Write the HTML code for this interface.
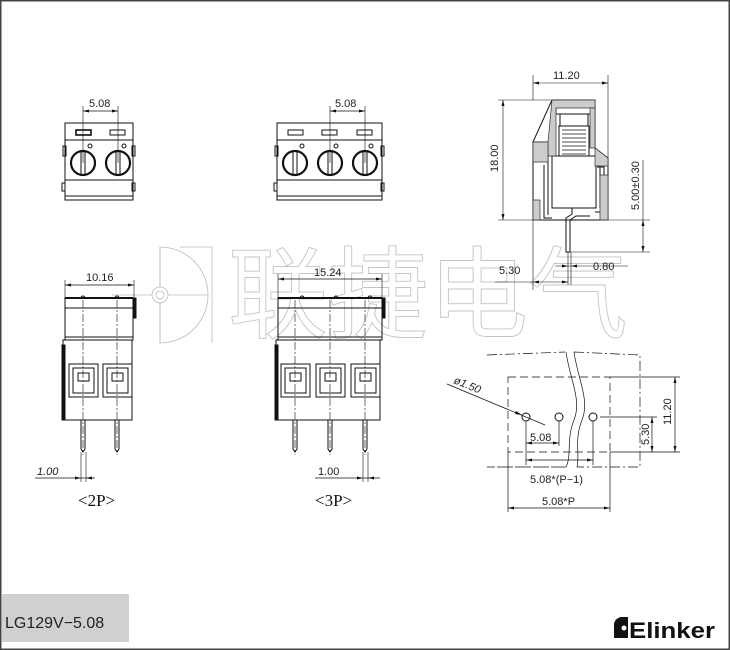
<!DOCTYPE html>
<html><head><meta charset="utf-8"><style>
html,body{margin:0;padding:0;background:#fff}
svg{display:block}
text{font-family:"Liberation Sans","Noto Sans CJK SC",sans-serif}
text.serif{font-family:"Liberation Serif",serif}
text.wm{font-family:"Noto Sans CJK SC",sans-serif}
text.logo{font-family:"Liberation Sans Narrow","Liberation Sans",sans-serif}
</style></head><body>
<svg width="730" height="650" viewBox="0 0 730 650" xmlns="http://www.w3.org/2000/svg">
<rect x="0" y="0" width="730" height="650" fill="#fff"/>
<rect x="0.75" y="0.75" width="728.5" height="648.5" fill="none" stroke="#444" stroke-width="1.5"/>

<!-- watermark -->
<g fill="none" stroke="#bbb" stroke-width="0.8">
<path d="M160 247 A48 48 0 1 1 160 343 Z"/>
<line x1="160" y1="247" x2="160" y2="343"/><line x1="112" y1="295" x2="208" y2="295"/>
<circle cx="160" cy="295" r="8" fill="#fff"/><circle cx="160" cy="295" r="4"/>
<path d="M180 247 H212 V343"/>
</g>
<text class="wm" x="228" y="330" font-size="100" fill="#fff" stroke="#c4c4c4" stroke-width="0.9">联捷电气</text>

<g stroke="#111" fill="none" stroke-width="1">
<!-- ===== 2P front top ===== -->
<rect x="65" y="123" width="68" height="77"/>
<line x1="65" y1="140" x2="133" y2="140"/>
<line x1="65" y1="180" x2="133" y2="180"/>
<line x1="65" y1="196" x2="133" y2="196"/>
<rect x="76" y="130" width="15" height="5" stroke-width="1.6"/>
<rect x="110" y="130" width="15" height="5"/>
<circle cx="83" cy="163" r="12" stroke-width="2.2"/>
<circle cx="118" cy="163" r="12" stroke-width="2.2"/>
<line x1="81" y1="151" x2="81" y2="175"/><line x1="85" y1="151" x2="85" y2="175"/>
<line x1="116" y1="151" x2="116" y2="175"/><line x1="120" y1="151" x2="120" y2="175"/>
<circle cx="90" cy="146" r="2"/><circle cx="124" cy="146" r="2"/>
<rect x="63" y="146" width="3" height="10"/><rect x="132" y="146" width="3" height="10"/>
<rect x="62" y="183" width="3" height="8"/><rect x="132" y="183" width="3" height="8"/>
<line x1="83" y1="106" x2="83" y2="163" stroke-width="0.6"/>
<line x1="118" y1="106" x2="118" y2="163" stroke-width="0.6"/>
<line x1="83" y1="111" x2="118" y2="111" stroke-width="0.7"/>

<!-- ===== 3P front top ===== -->
<rect x="277" y="123" width="105" height="77"/>
<line x1="277" y1="140" x2="382" y2="140"/>
<line x1="277" y1="180" x2="382" y2="180"/>
<line x1="277" y1="196" x2="382" y2="196"/>
<rect x="288" y="130" width="15" height="5"/>
<rect x="322" y="130" width="15" height="5"/>
<rect x="357" y="130" width="15" height="5"/>
<circle cx="295" cy="163" r="12" stroke-width="2.2"/>
<circle cx="330" cy="163" r="12" stroke-width="2.2"/>
<circle cx="365" cy="163" r="12" stroke-width="2.2"/>
<line x1="293" y1="151" x2="293" y2="175"/><line x1="297" y1="151" x2="297" y2="175"/>
<line x1="328" y1="151" x2="328" y2="175"/><line x1="332" y1="151" x2="332" y2="175"/>
<line x1="363" y1="151" x2="363" y2="175"/><line x1="367" y1="151" x2="367" y2="175"/>
<circle cx="302" cy="146" r="2"/><circle cx="336" cy="146" r="2"/><circle cx="371" cy="146" r="2"/>
<rect x="275" y="146" width="3" height="10"/><rect x="381" y="146" width="3" height="10"/>
<rect x="274" y="183" width="3" height="8"/><rect x="381" y="183" width="3" height="8"/>
<line x1="330" y1="106" x2="330" y2="163" stroke-width="0.6"/>
<line x1="365" y1="106" x2="365" y2="163" stroke-width="0.6"/>
<line x1="330" y1="111" x2="365" y2="111" stroke-width="0.7"/>

<!-- ===== 2P side ===== -->
<rect x="65" y="298" width="68" height="42"/>
<line x1="65" y1="298" x2="133" y2="298" stroke-width="2"/>
<line x1="65" y1="308" x2="133" y2="308"/>
<line x1="65" y1="337" x2="133" y2="337"/>
<rect x="133" y="298" width="3" height="20" fill="#111"/>
<rect x="63" y="340" width="69" height="80"/>
<rect x="62" y="345" width="3" height="75" fill="#111"/>
<rect x="69" y="364" width="29" height="33"/><rect x="73" y="368" width="21" height="25"/><rect x="78" y="373" width="11" height="8"/>
<rect x="103" y="364" width="29" height="33"/><rect x="107" y="368" width="21" height="25"/><rect x="112" y="373" width="11" height="8"/>
<path d="M81 420 V449 L83 452 L85 449 V420"/>
<path d="M115 420 V449 L117 452 L119 449 V420"/>
<path d="M81 298 a2 2 0 0 1 4 0 M115 298 a2 2 0 0 1 4 0"/>
<g stroke-width="0.6" stroke-dasharray="8 2 2 2">
<line x1="83" y1="300" x2="83" y2="455"/><line x1="117" y1="300" x2="117" y2="455"/>
</g>
<line x1="65" y1="280" x2="65" y2="298" stroke-width="0.6"/><line x1="134" y1="280" x2="134" y2="298" stroke-width="0.6"/>
<line x1="65" y1="285" x2="134" y2="285" stroke-width="0.7"/>
<line x1="81" y1="452" x2="81" y2="482" stroke-width="0.6"/><line x1="86" y1="452" x2="86" y2="482" stroke-width="0.6"/>
<line x1="35" y1="478" x2="95" y2="478" stroke-width="0.7"/>

<!-- ===== 3P side ===== -->
<rect x="278" y="298" width="104" height="42"/>
<line x1="278" y1="298" x2="382" y2="298" stroke-width="2"/>
<line x1="278" y1="308" x2="382" y2="308"/>
<line x1="278" y1="337" x2="382" y2="337"/>
<rect x="382" y="298" width="3" height="20" fill="#111"/>
<rect x="276" y="340" width="104" height="80"/>
<rect x="275" y="345" width="3" height="75" fill="#111"/>
<rect x="281" y="364" width="29" height="33"/><rect x="285" y="368" width="21" height="25"/><rect x="290" y="373" width="11" height="8"/>
<rect x="316" y="364" width="29" height="33"/><rect x="320" y="368" width="21" height="25"/><rect x="325" y="373" width="11" height="8"/>
<rect x="351" y="364" width="29" height="33"/><rect x="355" y="368" width="21" height="25"/><rect x="360" y="373" width="11" height="8"/>
<path d="M293 420 V449 L295 452 L297 449 V420"/>
<path d="M328 420 V449 L330 452 L332 449 V420"/>
<path d="M363 420 V449 L365 452 L367 449 V420"/>
<path d="M300 298 a2 2 0 0 1 4 0 M334 298 a2 2 0 0 1 4 0 M368 298 a2 2 0 0 1 4 0"/>
<g stroke-width="0.6" stroke-dasharray="8 2 2 2">
<line x1="295" y1="300" x2="295" y2="455"/><line x1="330" y1="300" x2="330" y2="455"/><line x1="365" y1="300" x2="365" y2="455"/>
</g>
<line x1="278" y1="274" x2="278" y2="298" stroke-width="0.6"/><line x1="382" y1="274" x2="382" y2="298" stroke-width="0.6"/>
<line x1="278" y1="279" x2="382" y2="279" stroke-width="0.7"/>
<line x1="363" y1="452" x2="363" y2="482" stroke-width="0.6"/><line x1="368" y1="452" x2="368" y2="482" stroke-width="0.6"/>
<line x1="315" y1="478" x2="380" y2="478" stroke-width="0.7"/>

<!-- ===== right side section ===== -->
<path d="M533 220 V142 L552 100 H595 V148 L608 158 V220 Z"/>
<line x1="533" y1="142" x2="550" y2="142"/>
<rect x="556" y="102" width="36" height="12"/>
<rect x="560" y="114" width="28" height="12"/>
<g stroke-width="0.8"><path d="M562 126 H586 M562 130 H586 M562 134 H586 M562 138 H586 M562 142 H586 M562 146 H586 M562 150 H586 M562 154 H586"/></g>
<rect x="559" y="126" width="30" height="30"/>
<rect x="552" y="156" width="44" height="52"/>
<path d="M548 156 V215 M544 165 V218 H552"/>
<path d="M597 167 H604 V212 H595"/>
<path d="M600 167 V208"/>
<g fill="#ccc" stroke="#333" stroke-width="0.7">
<path d="M552 100 H595 V108 H556 V156 H548 V142 Z"/>
<path d="M590 108 H595 V148 H590 Z"/>
<path d="M533 142 H548 V162 H533 Z"/>
<path d="M533 200 H540 V220 H533 Z"/>
<path d="M600 175 H608 V220 H600 Z"/>
<path d="M595 148 L608 158 V166 H595 Z"/>
</g>
<path d="M572 208 V214 L566 218 V252 H570 V220 L576 216 H590"/>
<line x1="568" y1="252" x2="568" y2="285" stroke-width="0.6"/><line x1="571" y1="252" x2="571" y2="285" stroke-width="0.6"/>
<g stroke-width="0.6">
<line x1="533" y1="75" x2="533" y2="100"/><line x1="608" y1="75" x2="608" y2="158"/>
<line x1="533" y1="83" x2="608" y2="83"/>
<line x1="498" y1="100" x2="552" y2="100"/><line x1="498" y1="220" x2="533" y2="220"/>
<line x1="503" y1="100" x2="503" y2="220"/>
<line x1="608" y1="220" x2="650" y2="220"/><line x1="571" y1="252" x2="650" y2="252"/>
<line x1="643" y1="160" x2="643" y2="252"/>
<line x1="533" y1="220" x2="533" y2="290"/>
<line x1="555" y1="266" x2="628" y2="266"/>
<line x1="495" y1="282" x2="568" y2="282"/>
</g>

<!-- ===== footprint ===== -->
<g stroke-width="0.7">
<path d="M487 355 L565 352 M574 352 L640 355 V467 H577 M566 467 H487 Z" stroke-dasharray="10 3 2 3"/>
<rect x="508" y="377" width="102" height="75" stroke-dasharray="8 4"/>
<path d="M566 352 C570 380 582 400 574 420 C566 440 572 455 566 467"/>
<path d="M574 352 C578 380 590 400 582 420 C574 440 580 455 577 467"/>
<line x1="610" y1="377" x2="680" y2="377"/><line x1="610" y1="452" x2="680" y2="452"/>
<line x1="675" y1="377" x2="675" y2="452"/>
<line x1="600" y1="417" x2="657" y2="417"/><line x1="652" y1="417" x2="652" y2="452"/>
<line x1="526" y1="421" x2="526" y2="465"/><line x1="559" y1="421" x2="559" y2="446"/>
<line x1="593" y1="421" x2="593" y2="465"/>
<line x1="526" y1="443" x2="559" y2="443"/>
<line x1="526" y1="460" x2="593" y2="460"/>
<line x1="508" y1="452" x2="508" y2="512"/><line x1="610" y1="452" x2="610" y2="512"/>
<line x1="508" y1="508" x2="610" y2="508"/>
<line x1="447" y1="384" x2="545" y2="425"/>
</g>
<circle cx="526" cy="417" r="4"/><circle cx="559" cy="417" r="4"/><circle cx="593" cy="417" r="4"/>
</g>

<!-- arrowheads -->
<g fill="#111">
<path d="M83 111 l6 -1.5 v3z M118 111 l-6 -1.5 v3z"/>
<path d="M330 111 l6 -1.5 v3z M365 111 l-6 -1.5 v3z"/>
<path d="M65 285 l6 -1.5 v3z M134 285 l-6 -1.5 v3z"/>
<path d="M278 279 l6 -1.5 v3z M382 279 l-6 -1.5 v3z"/>
<path d="M81 478 l-6 -1.5 v3z M86 478 l6 -1.5 v3z"/>
<path d="M363 478 l-6 -1.5 v3z M368 478 l6 -1.5 v3z"/>
<path d="M533 83 l6 -1.5 v3z M608 83 l-6 -1.5 v3z"/>
<path d="M503 100 l-1.5 6 h3z M503 220 l-1.5 -6 h3z"/>
<path d="M643 220 l-1.5 6 h3z M643 252 l-1.5 -6 h3z"/>
<path d="M568 266 l-6 -1.5 v3z M571 266 l6 -1.5 v3z"/>
<path d="M533 282 l6 -1.5 v3z M568 282 l-6 -1.5 v3z"/>
<path d="M675 377 l-1.5 6 h3z M675 452 l-1.5 -6 h3z"/>
<path d="M652 417 l-1.5 6 h3z M652 452 l-1.5 -6 h3z"/>
<path d="M526 443 l6 -1.5 v3z M559 443 l-6 -1.5 v3z"/>
<path d="M526 460 l6 -1.5 v3z M593 460 l-6 -1.5 v3z"/>
<path d="M508 508 l6 -1.5 v3z M610 508 l-6 -1.5 v3z"/>
<path d="M522 415 l-6 -4 l-1 3z"/>
</g>

<!-- labels -->
<g font-size="11" fill="#222">
<text x="89" y="107">5.08</text>
<text x="335" y="107">5.08</text>
<text x="86" y="281">10.16</text>
<text x="314" y="276">15.24</text>
<text x="37" y="475" font-style="italic">1.00</text>
<text x="318" y="475">1.00</text>
<text x="553" y="79">11.20</text>
<text x="499" y="274">5.30</text>
<text x="593" y="270">0.80</text>
<text transform="translate(498,172) rotate(-90)">18.00</text>
<text transform="translate(639,210) rotate(-90)">5.00±0.30</text>
<text transform="translate(453,383) rotate(22)" font-style="italic">ø1.50</text>
<text x="530" y="441">5.08</text>
<text x="530" y="483">5.08*(P−1)</text>
<text x="542" y="505">5.08*P</text>
<text transform="translate(649,445) rotate(-90)">5.30</text>
<text transform="translate(671,425) rotate(-90)">11.20</text>
</g>
<text class="serif" x="78" y="506" font-size="17" fill="#111">&lt;2P&gt;</text>
<text class="serif" x="315" y="506" font-size="17" fill="#111">&lt;3P&gt;</text>

<rect x="2" y="594" width="127" height="48" fill="#d0d0d0"/>
<text x="5" y="628" font-size="16" fill="#222">LG129V−5.08</text>

<path d="M614 638 V626 a8 8 0 0 1 8 -9 h6 v21 z" fill="#111"/>
<circle cx="624" cy="628" r="2.5" fill="#fff"/>
<text class="logo" x="629" y="638" font-size="22" font-weight="bold" fill="#111" textLength="86" lengthAdjust="spacingAndGlyphs">Elinker</text>
</svg>
</body></html>
